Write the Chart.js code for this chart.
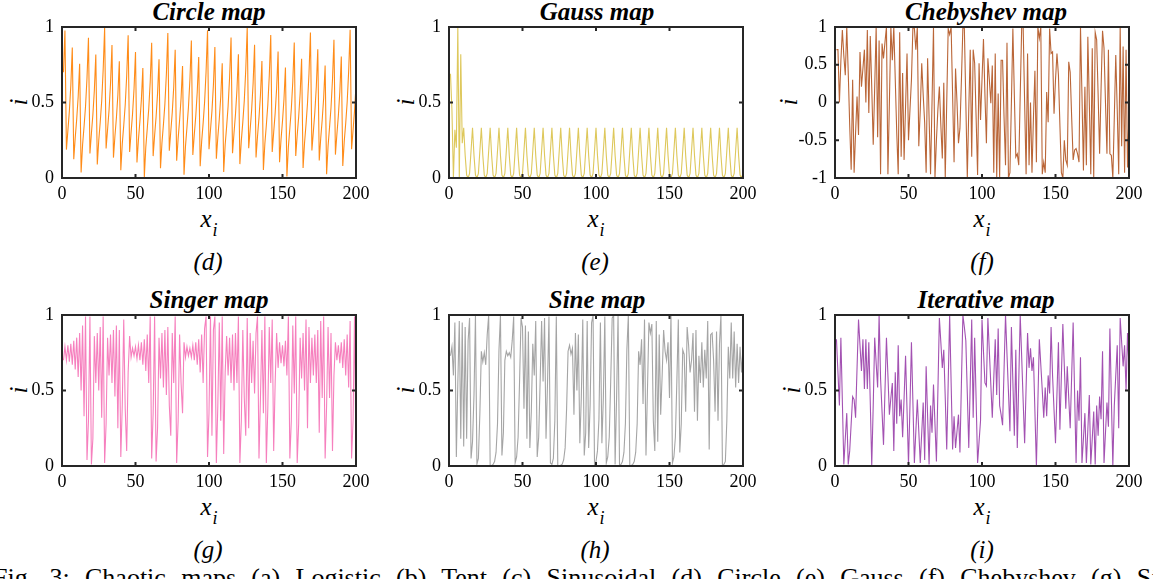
<!DOCTYPE html>
<html><head><meta charset="utf-8">
<script src="https://cdn.jsdelivr.net/npm/chart.js@4.4.0/dist/chart.umd.min.js"></script>
<style>
html,body{margin:0;padding:0;background:#fff}
body{width:1153px;height:579px;overflow:hidden;position:relative;font-family:'Liberation Serif','Times New Roman',serif;color:#000}
.pc{position:absolute}
.tt{position:absolute;transform:translateX(-50%);font-weight:bold;font-style:italic;font-size:25px;line-height:25px;white-space:nowrap}
.xl{position:absolute;transform:translateX(-50%);font-style:italic;font-size:25px;line-height:25px;white-space:nowrap}
.xl .s{font-size:18px;position:relative;top:9px;margin-left:1px}
.yl{position:absolute;transform:translate(-50%,-50%) rotate(-90deg);font-style:italic;font-size:25px;line-height:25px}
.tg{position:absolute;transform:translateX(-50%);font-style:italic;font-size:25px;line-height:25px;white-space:nowrap}
.cap{position:absolute;left:-7px;top:565px;font-size:26px;line-height:26px;word-spacing:8.8px;white-space:nowrap}
</style></head><body>

<div class="tt" style="left:209px;top:-1px">Circle map</div>
<div class="tt" style="left:597px;top:-1px">Gauss map</div>
<div class="tt" style="left:986px;top:-1px">Chebyshev map</div>
<div class="tt" style="left:209px;top:287px">Singer map</div>
<div class="tt" style="left:597px;top:287px">Sine map</div>
<div class="tt" style="left:986px;top:287px">Iterative map</div>

<div class="yl" style="left:18px;top:102px">i</div>
<div class="yl" style="left:405px;top:102px">i</div>
<div class="yl" style="left:788px;top:102px">i</div>
<div class="yl" style="left:18px;top:390px">i</div>
<div class="yl" style="left:405px;top:390px">i</div>
<div class="yl" style="left:791px;top:390px">i</div>

<div class="xl" style="left:209px;top:206px">x<span class="s">i</span></div>
<div class="xl" style="left:596px;top:206px">x<span class="s">i</span></div>
<div class="xl" style="left:982px;top:206px">x<span class="s">i</span></div>
<div class="xl" style="left:209px;top:494px">x<span class="s">i</span></div>
<div class="xl" style="left:596px;top:494px">x<span class="s">i</span></div>
<div class="xl" style="left:982px;top:494px">x<span class="s">i</span></div>

<div class="tg" style="left:208px;top:249px">(d)</div>
<div class="tg" style="left:595px;top:249px">(e)</div>
<div class="tg" style="left:982px;top:249px">(f)</div>
<div class="tg" style="left:208px;top:537px">(g)</div>
<div class="tg" style="left:595px;top:537px">(h)</div>
<div class="tg" style="left:982px;top:537px">(i)</div>

<div class="cap">Fig. 3: Chaotic maps (a) Logistic (b) Tent (c) Sinusoidal (d) Circle (e) Gauss (f) Chebyshev (g) Singer (h) Sine (i) Iterative</div>

<script>
// ---------- data ----------
const xTicks = [0, 50, 100, 150, 200];
const yTicksUnit = [0, 0.5, 1];
const yTicksCheb = [-1, -0.5, 0, 0.5, 1];

const circle = [
0.700,0.976,0.188,0.314,0.441,0.612,0.864,0.124,0.268,0.389,
0.538,0.757,0.037,0.219,0.341,0.474,0.661,0.928,0.162,0.295,
0.419,0.580,0.818,0.090,0.248,0.369,0.510,0.715,0.993,0.196,
0.321,0.449,0.624,0.880,0.135,0.276,0.397,0.549,0.773,0.052,
0.227,0.348,0.483,0.675,0.945,0.172,0.302,0.426,0.591,0.834,
0.103,0.255,0.376,0.519,0.729,0.007,0.204,0.327,0.457,0.636,
0.896,0.145,0.282,0.404,0.559,0.787,0.064,0.233,0.354,0.491,
0.687,0.960,0.180,0.308,0.434,0.602,0.850,0.114,0.261,0.382,
0.528,0.742,0.022,0.211,0.334,0.466,0.648,0.911,0.153,0.288,
0.411,0.569,0.802,0.078,0.241,0.362,0.502,0.702,0.979,0.190,
0.316,0.443,0.615,0.868,0.127,0.270,0.391,0.540,0.760,0.040,
0.220,0.342,0.476,0.663,0.931,0.164,0.296,0.420,0.581,0.820,
0.092,0.249,0.370,0.512,0.717,0.995,0.197,0.322,0.450,0.626,
0.882,0.136,0.276,0.398,0.550,0.775,0.053,0.227,0.349,0.484,
0.676,0.947,0.173,0.303,0.428,0.593,0.837,0.105,0.256,0.377,
0.521,0.732,0.010,0.205,0.329,0.459,0.638,0.898,0.146,0.283,
0.405,0.560,0.789,0.066,0.234,0.355,0.493,0.689,0.963,0.182,
0.309,0.435,0.604,0.853,0.116,0.263,0.384,0.530,0.745,0.025,
0.212,0.335,0.467,0.651,0.915,0.155,0.290,0.413,0.571,0.805,
0.080,0.242,0.363,0.503,0.705,0.981,0.191,0.316,0.444,0.616];

const gauss = [
0.69,0.45,0.00,0.32,0.20,1.00,0.00,0.82,0.23,0.333,
0.15,0.02,0.00,0.03,0.18,0.333,0.15,0.02,0.00,0.03,
0.18,0.333,0.15,0.02,0.00,0.03,0.18,0.333,0.15,0.02,
0.00,0.03,0.18,0.333,0.15,0.02,0.00,0.03,0.18,0.333,
0.15,0.02,0.00,0.03,0.18,0.333,0.15,0.02,0.00,0.03,
0.18,0.333,0.15,0.02,0.00,0.03,0.18,0.333,0.15,0.02,
0.00,0.03,0.18,0.333,0.15,0.02,0.00,0.03,0.18,0.333,
0.15,0.02,0.00,0.03,0.18,0.333,0.15,0.02,0.00,0.03,
0.18,0.333,0.15,0.02,0.00,0.03,0.18,0.333,0.15,0.02,
0.00,0.03,0.18,0.333,0.15,0.02,0.00,0.03,0.18,0.333,
0.15,0.02,0.00,0.03,0.18,0.333,0.15,0.02,0.00,0.03,
0.18,0.333,0.15,0.02,0.00,0.03,0.18,0.333,0.15,0.02,
0.00,0.03,0.18,0.333,0.15,0.02,0.00,0.03,0.18,0.333,
0.15,0.02,0.00,0.03,0.18,0.333,0.15,0.02,0.00,0.03,
0.18,0.333,0.15,0.02,0.00,0.03,0.18,0.333,0.15,0.02,
0.00,0.03,0.18,0.333,0.15,0.02,0.00,0.03,0.18,0.333,
0.15,0.02,0.00,0.03,0.18,0.333,0.15,0.02,0.00,0.03,
0.18,0.333,0.15,0.02,0.00,0.03,0.18,0.333,0.15,0.02,
0.00,0.03,0.18,0.333,0.15,0.02,0.00,0.03,0.18,0.333,
0.15,0.02,0.00,0.03,0.18,0.333,0.15,0.02,0.00,0.03];

const chebyshev = [
0.70,0.70,0.00,0.55,0.96,0.62,0.36,1.00,0.40,-0.30,
-0.89,0.30,-0.93,-0.40,0.08,-0.43,0.67,0.21,0.45,0.70,
0.00,0.96,-0.14,0.88,0.20,-0.56,0.20,1.00,-0.46,0.82,
-0.95,0.78,0.585,0.80,1.00,-0.95,0.00,1.00,0.56,1.00,
0.30,-0.40,-0.95,0.93,-0.72,0.39,-0.76,-0.05,0.65,-0.50,
-0.10,0.30,1.00,0.98,0.70,1.00,-0.58,-0.10,0.52,0.10,
-0.27,-0.93,0.585,-0.20,-0.95,0.00,1.00,-1.00,-0.50,-0.09,
0.21,-0.30,-0.74,0.26,-1.00,0.00,0.98,0.90,1.00,0.10,
-0.79,0.45,0.00,-0.54,-0.34,0.30,1.00,0.98,0.00,-1.00,
-0.10,0.70,-0.72,0.70,0.52,-0.20,-0.96,0.52,-0.23,0.30,
0.84,0.10,-0.54,0.585,0.30,-0.01,0.49,-0.93,0.65,-1.00,
0.12,-1.00,0.56,0.56,-0.20,-0.83,0.79,-1.00,-0.93,0.00,
0.98,0.10,-0.72,-0.68,-0.83,0.10,1.00,1.00,0.00,-0.95,
0.65,-0.83,0.00,-0.93,-0.20,0.42,-0.79,1.00,0.85,1.00,
-0.95,-0.79,-0.93,0.14,-0.26,0.98,0.65,0.67,-0.15,0.30,
0.65,0.36,-0.30,-0.93,-1.00,-0.50,-0.76,-0.83,0.54,0.40,
-0.20,-0.76,-0.63,-0.61,-0.68,-0.79,1.00,0.10,-0.90,0.21,
-0.83,0.87,0.00,-0.95,0.72,-1.00,0.93,0.83,0.10,-0.68,
0.19,0.95,0.72,0.00,-0.68,0.70,-0.68,-0.70,-1.00,-0.20,
0.63,-0.10,-0.95,1.00,-0.58,0.74,-0.93,0.70,-0.86,-0.12];

const singer = [
0.70,0.79,0.70,0.80,0.69,0.81,0.67,0.83,0.64,0.85,
0.59,0.88,0.50,0.93,0.33,0.99,0.04,0.30,0.99,0.01,
0.18,0.86,0.55,0.88,0.50,0.92,0.32,0.99,0.02,0.28,
0.85,0.60,0.87,0.55,0.90,0.46,0.93,0.25,0.90,0.06,
0.40,0.97,0.38,0.10,0.62,0.86,0.72,0.78,0.73,0.79,
0.71,0.80,0.70,0.82,0.67,0.84,0.63,0.87,0.55,0.99,
0.05,0.35,0.99,0.03,0.25,0.85,0.58,0.88,0.52,0.90,
0.47,0.92,0.40,0.20,0.88,0.55,0.99,0.02,0.30,0.87,
0.55,0.35,0.82,0.72,0.79,0.73,0.78,0.72,0.80,0.70,
0.82,0.67,0.84,0.62,0.87,0.55,0.91,0.99,0.06,0.35,
0.99,0.20,0.90,0.99,0.02,0.40,0.95,0.30,0.99,0.08,
0.62,0.86,0.60,0.85,0.55,0.87,0.50,0.88,0.55,0.99,
0.02,0.30,0.90,0.45,0.20,0.98,0.25,0.88,0.55,0.83,
0.48,0.88,0.99,0.05,0.45,0.90,0.35,0.99,0.02,0.38,
0.92,0.55,0.97,0.10,0.55,0.88,0.65,0.82,0.68,0.80,
0.66,0.83,0.60,0.99,0.05,0.30,0.93,0.48,0.99,0.02,
0.28,0.85,0.58,0.88,0.50,0.97,0.25,0.92,0.55,0.85,
0.60,0.87,0.55,0.90,0.22,0.96,0.45,0.99,0.05,0.40,
0.92,0.45,0.88,0.10,0.60,0.82,0.70,0.80,0.68,0.82,
0.65,0.84,0.60,0.87,0.52,0.96,0.05,0.30,0.99,0.05];

const sine = [
0.73,0.79,0.60,0.95,0.06,0.55,0.96,0.18,0.95,0.13,
0.92,0.18,0.83,0.98,0.05,0.16,0.47,0.996,0.013,0.05,
0.35,0.76,0.69,0.75,0.67,0.87,0.999,0.001,0.003,0.01,
0.03,0.09,0.28,0.77,0.998,0.07,0.22,0.70,0.76,0.73,
0.75,0.72,0.83,0.99,0.02,0.06,0.19,0.56,0.98,0.92,
0.38,0.93,0.18,0.89,0.12,0.36,0.81,0.60,0.96,0.06,
0.19,0.56,0.96,0.56,0.98,0.18,0.54,0.99,0.02,0.01,
0.05,0.30,0.99,0.005,0.001,0.004,0.012,0.04,0.12,0.38,
0.76,0.80,0.74,0.78,0.34,0.88,0.50,0.87,0.15,0.45,
0.97,0.07,0.22,0.96,0.12,0.40,0.95,0.998,0.006,0.03,
0.10,0.31,0.95,0.15,0.45,0.99,0.02,0.06,0.19,0.56,
0.98,0.999,0.01,0.45,0.999,0.003,0.01,0.03,0.09,0.28,
0.77,0.999,0.001,0.003,0.01,0.03,0.09,0.28,0.76,0.67,
0.84,0.41,0.97,0.07,0.50,0.95,0.88,0.94,0.30,0.10,
0.96,0.16,0.87,0.34,0.60,0.90,0.76,0.70,0.82,0.45,
0.999,0.02,0.06,0.19,0.56,0.97,0.09,0.28,0.77,0.74,
0.36,0.92,0.80,0.62,0.70,0.88,0.36,0.90,0.30,0.73,
0.55,0.82,0.52,0.77,0.58,0.96,0.11,0.87,0.88,0.70,
0.36,0.89,0.30,0.81,0.999,0.003,0.01,0.03,0.30,0.79,
0.58,0.95,0.58,0.89,0.52,0.81,0.55,0.79,0.62,0.78];

const iterative = [
0.84,0.62,0.40,0.85,0.43,0.01,0.18,0.35,0.01,0.10,
0.28,0.46,0.44,0.32,0.65,0.97,0.80,0.63,0.84,0.51,
0.84,0.51,0.82,0.42,0.00,0.40,0.85,0.68,0.52,1.00,
0.58,0.36,0.14,0.50,0.85,0.60,0.34,0.45,0.55,0.10,
0.62,0.28,0.80,0.33,0.44,0.19,0.45,0.73,0.37,0.01,
0.40,0.82,0.42,0.02,0.23,0.44,0.23,0.02,0.22,0.42,
0.04,0.66,0.33,0.01,0.40,0.22,0.54,0.28,0.03,0.50,
0.98,0.82,0.65,0.77,0.45,0.11,0.55,1.00,0.55,0.11,
0.33,0.12,0.23,0.34,0.09,0.55,1.00,0.92,0.83,0.48,
0.12,0.55,0.97,0.32,0.85,0.44,0.02,0.16,0.30,0.97,
0.76,0.55,0.53,0.98,0.76,0.54,0.32,0.58,0.84,0.47,
0.91,0.40,0.34,0.27,0.64,1.00,0.74,0.49,0.23,0.92,
0.56,0.20,0.77,0.12,0.56,1.00,0.72,0.43,0.15,0.52,
0.88,0.65,0.78,0.63,0.72,0.36,0.00,0.42,0.84,0.67,
0.50,0.32,0.52,0.33,0.60,0.48,0.92,0.60,0.37,0.15,
0.48,0.82,0.24,0.60,0.94,0.66,0.38,0.66,0.45,0.25,
0.60,0.95,0.48,0.02,0.50,0.30,0.72,0.02,0.18,0.35,
0.02,0.24,0.47,0.01,0.18,0.36,0.01,0.40,0.20,0.46,
0.31,0.76,0.02,0.22,0.42,0.26,0.91,0.45,0.00,0.40,
0.60,0.80,0.25,0.98,0.82,0.66,0.80,0.50,0.88,0.65];

// ---------- layout ----------
const colLeft = [62, 449, 835];
const rowTop = [27, 315];
const PW = 294, PH = 151;
const YW = 50, XH = 34, PT = 26, PR = 26;

const panels = [
  {values: circle,    color: 'rgb(255,140,25)',  yMin: 0,  yMax: 1, yTicks: yTicksUnit, col: 0, row: 0},
  {values: gauss,     color: 'rgb(222,200,92)',  yMin: 0,  yMax: 1, yTicks: yTicksUnit, col: 1, row: 0},
  {values: chebyshev, color: 'rgb(186,102,56)',  yMin: -1, yMax: 1, yTicks: yTicksCheb, col: 2, row: 0},
  {values: singer,    color: 'rgb(246,128,190)', yMin: 0,  yMax: 1, yTicks: yTicksUnit, col: 0, row: 1},
  {values: sine,      color: 'rgb(165,165,165)', yMin: 0,  yMax: 1, yTicks: yTicksUnit, col: 1, row: 1},
  {values: iterative, color: 'rgb(163,82,178)',  yMin: 0,  yMax: 1, yTicks: yTicksUnit, col: 2, row: 1}
];

const framePlugin = {
  id: 'frame',
  afterDraw(chart) {
    const {ctx, chartArea: a, scales: {x, y}} = chart;
    const tl = 4;
    ctx.save();
    ctx.strokeStyle = '#262626';
    ctx.lineWidth = 2;
    ctx.beginPath();
    x.ticks.forEach(t => {
      const px = x.getPixelForValue(t.value);
      ctx.moveTo(px, a.bottom); ctx.lineTo(px, a.bottom - tl);
      ctx.moveTo(px, a.top); ctx.lineTo(px, a.top + tl);
    });
    y.ticks.forEach(t => {
      const py = y.getPixelForValue(t.value);
      ctx.moveTo(a.left, py); ctx.lineTo(a.left + tl, py);
      ctx.moveTo(a.right, py); ctx.lineTo(a.right - tl, py);
    });
    ctx.stroke();
    ctx.strokeRect(a.left, a.top, a.right - a.left, a.bottom - a.top);
    ctx.restore();
  }
};

const tickFont = {family: "'Liberation Serif','Times New Roman',serif", size: 18};

function place(chart, cv, p) {
  const a = chart.chartArea;
  cv.style.left = (colLeft[p.col] - a.left) + 'px';
  cv.style.top = (rowTop[p.row] - a.top) + 'px';
}

panels.forEach(p => {
  const cv = document.createElement('canvas');
  const W = YW + PW + PR, H = PT + PH + XH;
  cv.width = W; cv.height = H;
  cv.className = 'pc';
  cv.style.width = W + 'px'; cv.style.height = H + 'px';
  document.body.appendChild(cv);
  const chart = new Chart(cv.getContext('2d'), {
    type: 'line',
    data: {datasets: [{
      data: p.values.map((v, i) => ({x: i + 1, y: v})),
      borderColor: p.color, borderWidth: 1.1, pointRadius: 0, tension: 0, fill: false
    }]},
    options: {
      responsive: false, animation: false, devicePixelRatio: 1,
      layout: {padding: {left: 0, top: PT, right: PR, bottom: 0}, autoPadding: false},
      plugins: {legend: {display: false}, tooltip: {enabled: false}, title: {display: false}},
      scales: {
        x: {
          type: 'linear', min: 0, max: 200,
          afterBuildTicks: s => { s.ticks = xTicks.map(v => ({value: v})); },
          afterFit: s => { s.height = XH; },
          grid: {display: false, drawTicks: false, tickLength: 0},
          border: {display: false},
          ticks: {font: tickFont, color: '#000', padding: 5, maxRotation: 0, autoSkip: false, callback: v => String(v)}
        },
        y: {
          type: 'linear', min: p.yMin, max: p.yMax,
          afterBuildTicks: s => { s.ticks = p.yTicks.map(v => ({value: v})); },
          afterFit: s => { s.width = YW; },
          grid: {display: false, drawTicks: false, tickLength: 0},
          border: {display: false},
          ticks: {font: tickFont, color: '#000', padding: 8, autoSkip: false, callback: v => String(v)}
        }
      }
    },
    plugins: [framePlugin]
  });
  const a = chart.chartArea;
  const dw = PW - (a.right - a.left), dh = PH - (a.bottom - a.top);
  if (Math.abs(dw) > 0.5 || Math.abs(dh) > 0.5) {
    chart.resize(W + dw, H + dh);
  }
  place(chart, cv, p);
});
</script>
</body></html>
